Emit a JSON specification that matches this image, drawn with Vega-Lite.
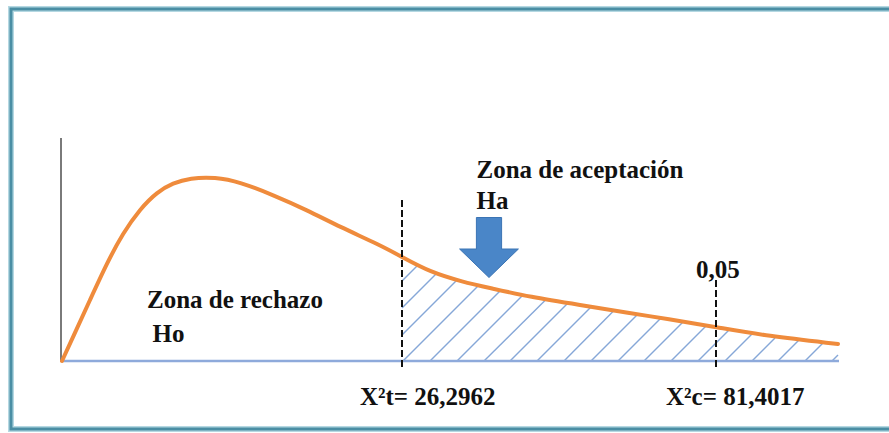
{
  "$schema": "https://vega.github.io/schema/vega-lite/v6.json",
  "width": 889,
  "height": 433,
  "autosize": {"type": "fit", "contains": "padding"},
  "padding": 0,
  "background": "white",
  "config": {"view": {"stroke": null}},
  "datasets": {
    "frame": [{"x": -51, "y": 352, "x2": 850, "y2": -68}],
    "curve": [
      {"x": 0, "y": 0}, {"x": 11, "y": 24}, {"x": 28, "y": 61}, {"x": 45, "y": 98},
      {"x": 61, "y": 128}, {"x": 78, "y": 152}, {"x": 95, "y": 169}, {"x": 111, "y": 178},
      {"x": 128, "y": 183}, {"x": 153, "y": 184}, {"x": 178, "y": 179}, {"x": 211, "y": 166},
      {"x": 245, "y": 151}, {"x": 278, "y": 134}, {"x": 318, "y": 116}, {"x": 340, "y": 104},
      {"x": 368, "y": 89}, {"x": 401, "y": 79}, {"x": 428, "y": 73}, {"x": 468, "y": 64},
      {"x": 518, "y": 56}, {"x": 568, "y": 48}, {"x": 605, "y": 42}, {"x": 654, "y": 34},
      {"x": 705, "y": 25}, {"x": 776, "y": 17}
    ],
    "hatch": [
      {"x": 340, "y": 80, "x2": 356, "y2": 96},
      {"x": 340, "y": 53, "x2": 374, "y2": 87},
      {"x": 340, "y": 26, "x2": 395, "y2": 81},
      {"x": 341, "y": 0, "x2": 417, "y2": 76},
      {"x": 368, "y": 0, "x2": 439, "y2": 71},
      {"x": 395, "y": 0, "x2": 461, "y2": 66},
      {"x": 422, "y": 0, "x2": 484, "y2": 61.5},
      {"x": 448, "y": 0, "x2": 506, "y2": 58},
      {"x": 475, "y": 0, "x2": 529, "y2": 54},
      {"x": 502, "y": 0, "x2": 552, "y2": 50.5},
      {"x": 529, "y": 0, "x2": 576, "y2": 47},
      {"x": 556, "y": 0, "x2": 600, "y2": 44},
      {"x": 582, "y": 0, "x2": 622, "y2": 40},
      {"x": 609, "y": 0, "x2": 645, "y2": 36},
      {"x": 636, "y": 0, "x2": 667.5, "y2": 31.5},
      {"x": 663, "y": 0, "x2": 690, "y2": 27},
      {"x": 690, "y": 0, "x2": 713, "y2": 23},
      {"x": 716, "y": 0, "x2": 737, "y2": 21},
      {"x": 743, "y": 0, "x2": 761.5, "y2": 18.5},
      {"x": 770, "y": 0, "x2": 776, "y2": 6}
    ],
    "baseline": [{"x": 0, "y": 0, "x2": 777, "y2": 0}],
    "yaxis": [{"x": -1, "y": 0, "x2": -1, "y2": 223}],
    "critical": [
      {"x": 340, "y": -6, "x2": 340, "y2": 164},
      {"x": 654, "y": -6, "x2": 654, "y2": 84}
    ],
    "arrow": [{"x": 427, "y": 113.5}],
    "labels": [
      {"x": 85, "y": 53, "label": "Zona de rechazo"},
      {"x": 90.5, "y": 19.5, "label": "Ho"},
      {"x": 414.5, "y": 183.5, "label": "Zona de aceptación"},
      {"x": 414.5, "y": 152.5, "label": "Ha"},
      {"x": 298, "y": -44, "label": "X²t= 26,2962"},
      {"x": 604, "y": -44, "label": "X²c= 81,4017"},
      {"x": 634, "y": 83, "label": "0,05"}
    ]
  },
  "layer": [
    {
      "data": {"name": "frame"},
      "mark": {"type": "rect", "fill": null, "stroke": "#b5d8e2", "strokeWidth": 6, "clip": true},
      "encoding": {
        "x": {"field": "x", "type": "quantitative", "scale": {"domain": [-62, 827], "nice": false, "zero": false}, "axis": null},
        "x2": {"field": "x2"},
        "y": {"field": "y", "type": "quantitative", "scale": {"domain": [-72, 361], "nice": false, "zero": false}, "axis": null},
        "y2": {"field": "y2"}
      }
    },
    {
      "data": {"name": "frame"},
      "mark": {"type": "rect", "fill": null, "stroke": "#4a8ea4", "strokeWidth": 3, "clip": true},
      "encoding": {
        "x": {"field": "x", "type": "quantitative", "scale": {"domain": [-62, 827], "nice": false, "zero": false}, "axis": null},
        "x2": {"field": "x2"},
        "y": {"field": "y", "type": "quantitative", "scale": {"domain": [-72, 361], "nice": false, "zero": false}, "axis": null},
        "y2": {"field": "y2"}
      }
    },
    {
      "data": {"name": "hatch"},
      "mark": {"type": "rule", "stroke": "#86a7d8", "strokeWidth": 1.4},
      "encoding": {
        "x": {"field": "x", "type": "quantitative", "scale": {"domain": [-62, 827], "nice": false, "zero": false}, "axis": null},
        "x2": {"field": "x2"},
        "y": {"field": "y", "type": "quantitative", "scale": {"domain": [-72, 361], "nice": false, "zero": false}, "axis": null},
        "y2": {"field": "y2"}
      }
    },
    {
      "data": {"name": "baseline"},
      "mark": {"type": "rule", "stroke": "#8eaadb", "strokeWidth": 2.5},
      "encoding": {
        "x": {"field": "x", "type": "quantitative", "scale": {"domain": [-62, 827], "nice": false, "zero": false}, "axis": null},
        "x2": {"field": "x2"},
        "y": {"field": "y", "type": "quantitative", "scale": {"domain": [-72, 361], "nice": false, "zero": false}, "axis": null},
        "y2": {"field": "y2"}
      }
    },
    {
      "data": {"name": "yaxis"},
      "mark": {"type": "rule", "stroke": "#7a7a7a", "strokeWidth": 2},
      "encoding": {
        "x": {"field": "x", "type": "quantitative", "scale": {"domain": [-62, 827], "nice": false, "zero": false}, "axis": null},
        "x2": {"field": "x2"},
        "y": {"field": "y", "type": "quantitative", "scale": {"domain": [-72, 361], "nice": false, "zero": false}, "axis": null},
        "y2": {"field": "y2"}
      }
    },
    {
      "data": {"name": "curve"},
      "mark": {"type": "line", "stroke": "#ef8b3c", "strokeWidth": 4, "interpolate": "basis", "strokeCap": "round"},
      "encoding": {
        "x": {"field": "x", "type": "quantitative", "scale": {"domain": [-62, 827], "nice": false, "zero": false}, "axis": null},
        "y": {"field": "y", "type": "quantitative", "scale": {"domain": [-72, 361], "nice": false, "zero": false}, "axis": null}
      }
    },
    {
      "data": {"name": "critical"},
      "mark": {"type": "rule", "stroke": "#111111", "strokeWidth": 2, "strokeDash": [7, 3]},
      "encoding": {
        "x": {"field": "x", "type": "quantitative", "scale": {"domain": [-62, 827], "nice": false, "zero": false}, "axis": null},
        "x2": {"field": "x2"},
        "y": {"field": "y", "type": "quantitative", "scale": {"domain": [-72, 361], "nice": false, "zero": false}, "axis": null},
        "y2": {"field": "y2"}
      }
    },
    {
      "data": {"name": "arrow"},
      "mark": {"type": "point", "shape": "M-0.42,-1 L0.42,-1 L0.42,0.05 L0.98,0.05 L0,1 L-0.98,0.05 L-0.42,0.05 Z", "size": 3600, "filled": true, "fill": "#4a86c8", "stroke": "#3b74b4", "strokeWidth": 1, "opacity": 1},
      "encoding": {
        "x": {"field": "x", "type": "quantitative", "scale": {"domain": [-62, 827], "nice": false, "zero": false}, "axis": null},
        "y": {"field": "y", "type": "quantitative", "scale": {"domain": [-72, 361], "nice": false, "zero": false}, "axis": null}
      }
    },
    {
      "data": {"name": "labels"},
      "mark": {"type": "text", "font": "'Liberation Serif', 'DejaVu Serif', serif", "fontWeight": "bold", "fontSize": 25, "align": "left", "baseline": "alphabetic", "fill": "#111111"},
      "encoding": {
        "x": {"field": "x", "type": "quantitative", "scale": {"domain": [-62, 827], "nice": false, "zero": false}, "axis": null},
        "y": {"field": "y", "type": "quantitative", "scale": {"domain": [-72, 361], "nice": false, "zero": false}, "axis": null},
        "text": {"field": "label", "type": "nominal"}
      }
    }
  ]
}
